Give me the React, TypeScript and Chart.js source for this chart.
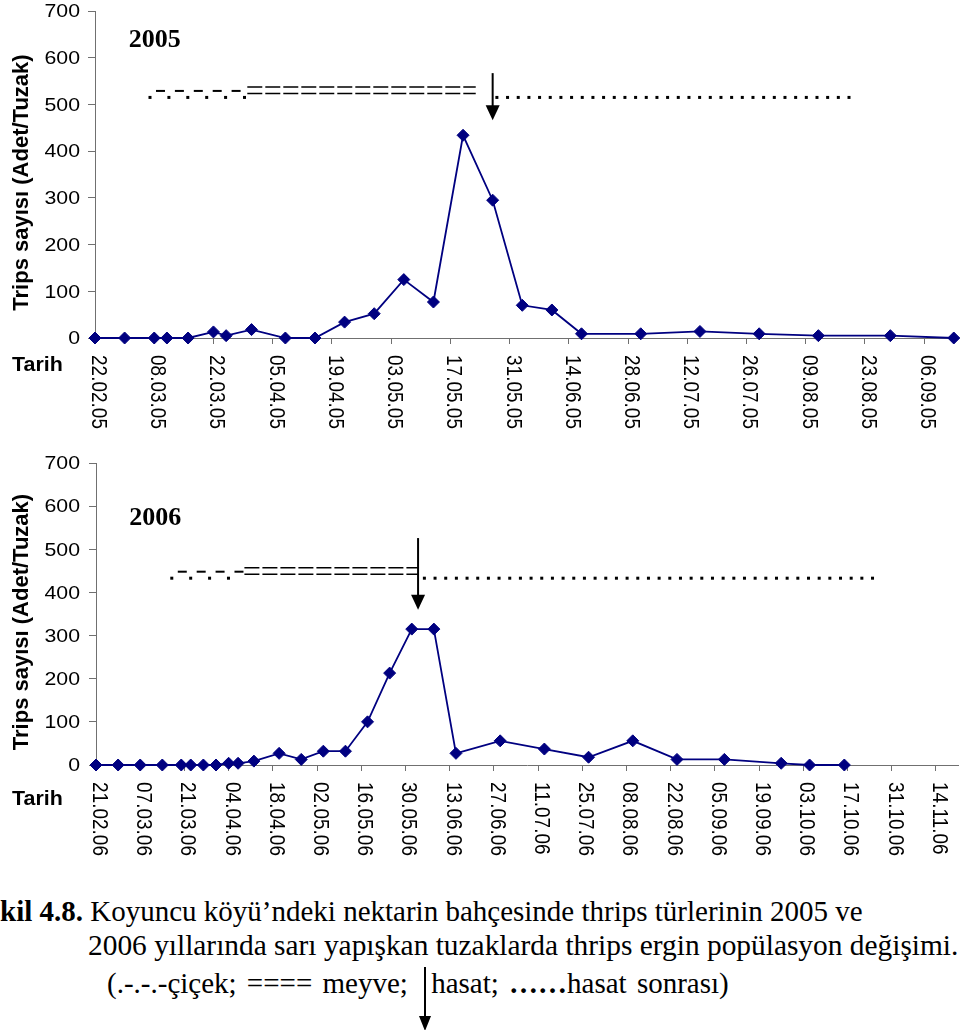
import React, { useEffect, useRef } from 'react';
import { Chart, registerables } from 'chart.js';

Chart.register(...registerables);

const SANS = '"Liberation Sans", Arial, Helvetica, sans-serif';
const SERIF = '"Liberation Serif", "Times New Roman", Times, serif';

// Sampling dates (dd.mm.yy) and adult thrips caught per trap, 2005
const dates2005 = [
  '22.02.05', '01.03.05', '08.03.05', '11.03.05', '16.03.05', '22.03.05', '25.03.05',
  '31.03.05', '08.04.05', '15.04.05', '22.04.05', '29.04.05', '06.05.05', '13.05.05',
  '20.05.05', '27.05.05', '03.06.05', '10.06.05', '17.06.05', '01.07.05', '15.07.05',
  '29.07.05', '12.08.05', '29.08.05', '13.09.05',
];
const counts2005 = [
  0, 0, 0, 0, 0, 13, 5,
  18, 0, 0, 34, 52, 125, 77,
  434, 295, 70, 60, 9, 9, 14,
  9, 5, 5, 0,
];
const xTicks2005 = [
  '22.02.05', '08.03.05', '22.03.05', '05.04.05', '19.04.05', '03.05.05', '17.05.05',
  '31.05.05', '14.06.05', '28.06.05', '12.07.05', '26.07.05', '09.08.05', '23.08.05',
  '06.09.05',
];

// Sampling dates and adult thrips caught per trap, 2006
const dates2006 = [
  '21.02.06', '28.02.06', '07.03.06', '14.03.06', '20.03.06', '23.03.06', '27.03.06',
  '31.03.06', '04.04.06', '07.04.06', '12.04.06', '20.04.06', '27.04.06', '04.05.06',
  '11.05.06', '18.05.06', '25.05.06', '01.06.06', '08.06.06', '15.06.06', '29.06.06',
  '13.07.06', '27.07.06', '10.08.06', '24.08.06', '08.09.06', '26.09.06', '05.10.06',
  '16.10.06',
];
const counts2006 = [
  0, 0, 0, 0, 0, 0, 0,
  0, 4, 4, 9, 27, 13, 32,
  32, 100, 213, 315, 315, 27, 56,
  37, 18, 56, 13, 13, 4, 0,
  0,
];
const xTicks2006 = [
  '21.02.06', '07.03.06', '21.03.06', '04.04.06', '18.04.06', '02.05.06', '16.05.06',
  '30.05.06', '13.06.06', '27.06.06', '11.07.06', '25.07.06', '08.08.06', '22.08.06',
  '05.09.06', '19.09.06', '03.10.06', '17.10.06', '31.10.06', '14.11.06',
];

const yTicks = [0, 100, 200, 300, 400, 500, 600, 700];

// Phenology periods: çiçek (flowering), meyve (fruit), hasat (harvest), hasat sonrası
const cicek2005 = ['07.03.05', '30.03.05'];
const meyve2005 = ['30.03.05', '23.05.05'];
const hasat2005 = '27.05.05';
const sonrasi2005 = ['28.05.05', '21.08.05'];

const cicek2006 = ['17.03.06', '09.04.06'];
const meyve2006 = ['09.04.06', '03.06.06'];
const hasat2006 = '03.06.06';
const sonrasi2006 = ['05.06.06', '27.10.06'];

const yTitle = 'Trips sayısı (Adet/Tuzak)';
const xTitle = 'Tarih';

const captionBold = 'Şekil 4.8.';
const captionLine1 = ' Koyuncu köyü’ndeki nektarin bahçesinde thrips türlerinin 2005 ve';
const captionLine2 = '2006 yıllarında sarı yapışkan tuzaklarda thrips ergin popülasyon değişimi.';

const toUTC = (s: string) => {
  const [d, m, y] = s.split('.').map(Number);
  return Date.UTC(2000 + y, m - 1, d);
};
const daysFrom = (base: string) => (s: string) => Math.round((toUTC(s) - toUTC(base)) / 86400000);

type Cfg = {
  year: string;
  dates: string[];
  counts: number[];
  xTicks: string[];
  xMax: number;
  yWidth: number;
  xHeight: number;
  padRight: number;
  tarihDy: number;
  yearAt: [number, number];
  cicek: string[];
  meyve: string[];
  hasat: string;
  sonrasi: string[];
  level: number;
  arrow: [number, number];
};

const cfg2005: Cfg = {
  year: '2005', dates: dates2005, counts: counts2005, xTicks: xTicks2005,
  xMax: 204, yWidth: 95, xHeight: 92, padRight: 0, tarihDy: 32.5, yearAt: [8, 622],
  cicek: cicek2005, meyve: meyve2005, hasat: hasat2005, sonrasi: sonrasi2005,
  level: 515, arrow: [567, 466],
};

const cfg2006: Cfg = {
  year: '2006', dates: dates2006, counts: counts2006, xTicks: xTicks2006,
  xMax: 273, yWidth: 96, xHeight: 117, padRight: 2, tarihDy: 40, yearAt: [10.5, 557],
  cicek: cicek2006, meyve: meyve2006, hasat: hasat2006, sonrasi: sonrasi2006,
  level: 433, arrow: [526, 360],
};

function decorPlugin(cfg: Cfg) {
  return {
    id: 'decor',
    afterDraw(chart: any) {
      const { ctx, chartArea } = chart;
      const xs = chart.scales.x;
      const ys = chart.scales.y;
      const day = daysFrom(cfg.dates[0]);
      const px = (s: string) => xs.getPixelForValue(day(s));
      ctx.save();
      ctx.fillStyle = '#000';
      ctx.strokeStyle = '#000';

      // value axis labels
      ctx.font = `19px ${SANS}`;
      ctx.textAlign = 'right';
      ctx.textBaseline = 'middle';
      yTicks.forEach((v) => {
        ctx.save();
        ctx.translate(80, ys.getPixelForValue(v) + 1);
        ctx.scale(1.12, 1);
        ctx.fillText(String(v), 0, 0);
        ctx.restore();
      });

      // date labels, turned to read downward
      ctx.textAlign = 'left';
      xs.ticks.forEach((t: any) => {
        const label = cfg.xTicks[Math.round(t.value / 14)];
        if (!label) return;
        ctx.save();
        ctx.translate(xs.getPixelForValue(t.value) + 3, chartArea.bottom + 17);
        ctx.rotate(Math.PI / 2);
        ctx.scale(1, 1.15);
        ctx.fillText(label, 0, 0);
        ctx.restore();
      });

      // axis titles
      ctx.font = `bold 22px ${SANS}`;
      ctx.textAlign = 'center';
      ctx.textBaseline = 'alphabetic';
      ctx.save();
      ctx.translate(28, (chartArea.top + chartArea.bottom) / 2 + 8);
      ctx.rotate(-Math.PI / 2);
      ctx.fillText(yTitle, 0, 0);
      ctx.restore();

      ctx.font = `bold 20px ${SANS}`;
      ctx.textAlign = 'left';
      ctx.save();
      ctx.translate(12, chartArea.bottom + cfg.tarihDy);
      ctx.scale(1.07, 1);
      ctx.fillText(xTitle, 0, 0);
      ctx.restore();

      // season label
      ctx.font = `bold 26px ${SERIF}`;
      ctx.fillText(cfg.year, xs.getPixelForValue(cfg.yearAt[0]), ys.getPixelForValue(cfg.yearAt[1]));

      // phenology line
      const lvl = ys.getPixelForValue(cfg.level);
      // çiçek: .-.-.-
      const c0 = px(cfg.cicek[0]);
      const c1 = px(cfg.cicek[1]);
      for (let x = c0; x < c1 - 2; x += 18.9) {
        ctx.fillRect(x - 1.5, lvl - 1.5, 3, 3);
        if (x + 15 <= c1) ctx.fillRect(x + 6, lvl - 7.5, 9, 2);
      }
      // meyve: ====
      const m0 = px(cfg.meyve[0]);
      const m1 = px(cfg.meyve[1]);
      ctx.lineWidth = 1.5;
      ctx.setLineDash([15, 3]);
      [lvl - 10.5, lvl - 4].forEach((y) => {
        ctx.beginPath();
        ctx.moveTo(m0, y);
        ctx.lineTo(m1, y);
        ctx.stroke();
      });
      ctx.setLineDash([]);
      // hasat sonrası: ......
      const s0 = px(cfg.sonrasi[0]);
      const s1 = px(cfg.sonrasi[1]);
      for (let x = s0; x <= s1 + 0.5; x += 10.67) {
        ctx.fillRect(x - 1.5, lvl - 1.5, 3, 3);
      }
      // hasat arrow
      const hx = px(cfg.hasat);
      const aTop = ys.getPixelForValue(cfg.arrow[0]);
      const aTip = ys.getPixelForValue(cfg.arrow[1]);
      ctx.lineWidth = 2;
      ctx.beginPath();
      ctx.moveTo(hx, aTop);
      ctx.lineTo(hx, aTip - 12);
      ctx.stroke();
      ctx.beginPath();
      ctx.moveTo(hx - 7, aTip - 15);
      ctx.lineTo(hx + 7, aTip - 15);
      ctx.lineTo(hx, aTip);
      ctx.closePath();
      ctx.fill();

      ctx.restore();
    },
  };
}

function TrapChart({ cfg, top }: { cfg: Cfg; top: number }) {
  const ref = useRef<HTMLCanvasElement>(null);
  useEffect(() => {
    const canvas = ref.current;
    if (!canvas) return;
    const day = daysFrom(cfg.dates[0]);
    const axisColor = '#707070';
    const chart = new Chart(canvas, {
      type: 'line',
      data: {
        datasets: [
          {
            data: cfg.dates.map((d, i) => ({ x: day(d), y: cfg.counts[i] })),
            borderColor: '#000080',
            backgroundColor: '#000080',
            borderWidth: 1.8,
            pointStyle: 'rectRot',
            pointRadius: 6,
            pointBorderWidth: 1,
            pointBackgroundColor: '#000080',
            pointBorderColor: '#000080',
            tension: 0,
            clip: false,
          } as any,
        ],
      },
      options: {
        animation: false,
        responsive: false,
        devicePixelRatio: 1,
        layout: { padding: { top: 11, right: cfg.padRight, bottom: 0, left: 0 } },
        plugins: {
          legend: { display: false },
          tooltip: { enabled: false },
          title: { display: false },
        },
        scales: {
          x: {
            type: 'linear',
            position: 'bottom',
            min: 0,
            max: cfg.xMax,
            ticks: { display: false, stepSize: 14, includeBounds: false },
            afterBuildTicks: (s: any) => {
              s.ticks = s.ticks.filter((t: any) => t.value % 14 === 0);
            },
            grid: { drawOnChartArea: false, drawTicks: true, tickLength: 6, color: axisColor, lineWidth: 1 },
            border: { display: true, color: axisColor, width: 1 },
            afterFit: (s: any) => {
              s.height = cfg.xHeight;
            },
          },
          y: {
            type: 'linear',
            min: 0,
            max: 700,
            ticks: { display: false, stepSize: 100 },
            grid: { drawOnChartArea: false, drawTicks: true, tickLength: 7, color: axisColor, lineWidth: 1 },
            border: { display: true, color: axisColor, width: 1 },
            afterFit: (s: any) => {
              s.width = cfg.yWidth;
            },
          },
        },
      } as any,
      plugins: [decorPlugin(cfg)],
    });
    return () => chart.destroy();
  }, [cfg]);
  return (
    <canvas
      ref={ref}
      width={965}
      height={430}
      style={{ position: 'absolute', left: 0, top, width: 965, height: 430, display: 'block' }}
    />
  );
}

const lineStyle: React.CSSProperties = {
  position: 'absolute',
  whiteSpace: 'nowrap',
  fontFamily: SERIF,
  fontSize: 29,
  lineHeight: '29px',
  color: '#000',
};

function HarvestArrow() {
  return (
    <span style={{ display: 'inline-block', position: 'relative', width: 13, height: 29, verticalAlign: 'baseline' }}>
      <span style={{ position: 'absolute', left: 6, top: 3, width: 1.4, height: 50, background: '#000' }} />
      <span
        style={{
          position: 'absolute',
          left: 1,
          top: 52,
          width: 0,
          height: 0,
          borderLeft: '6px solid transparent',
          borderRight: '6px solid transparent',
          borderTop: '15px solid #000',
        }}
      />
    </span>
  );
}

export default function App() {
  return (
    <div style={{ position: 'absolute', left: 0, top: 0, width: 965, height: 1030, overflow: 'hidden', background: '#fff' }}>
      <TrapChart cfg={cfg2005} top={0} />
      <TrapChart cfg={cfg2006} top={452} />
      <div style={{ ...lineStyle, left: 0, top: 897 }}>
        <b>
          <span style={{ position: 'relative' }}>
            <span style={{ position: 'absolute', right: '100%' }}>{captionBold.slice(0, 2)}</span>
            {captionBold.slice(2)}
          </span>
        </b>
        {captionLine1}
      </div>
      <div style={{ ...lineStyle, fontSize: 29.4, left: 88, top: 931 }}>{captionLine2}</div>
      <div style={{ ...lineStyle, left: 107, top: 964, wordSpacing: 3 }}>
        (.-.-.-çiçek; ==== meyve; <HarvestArrow />hasat; <b>……</b>hasat sonrası)
      </div>
    </div>
  );
}
